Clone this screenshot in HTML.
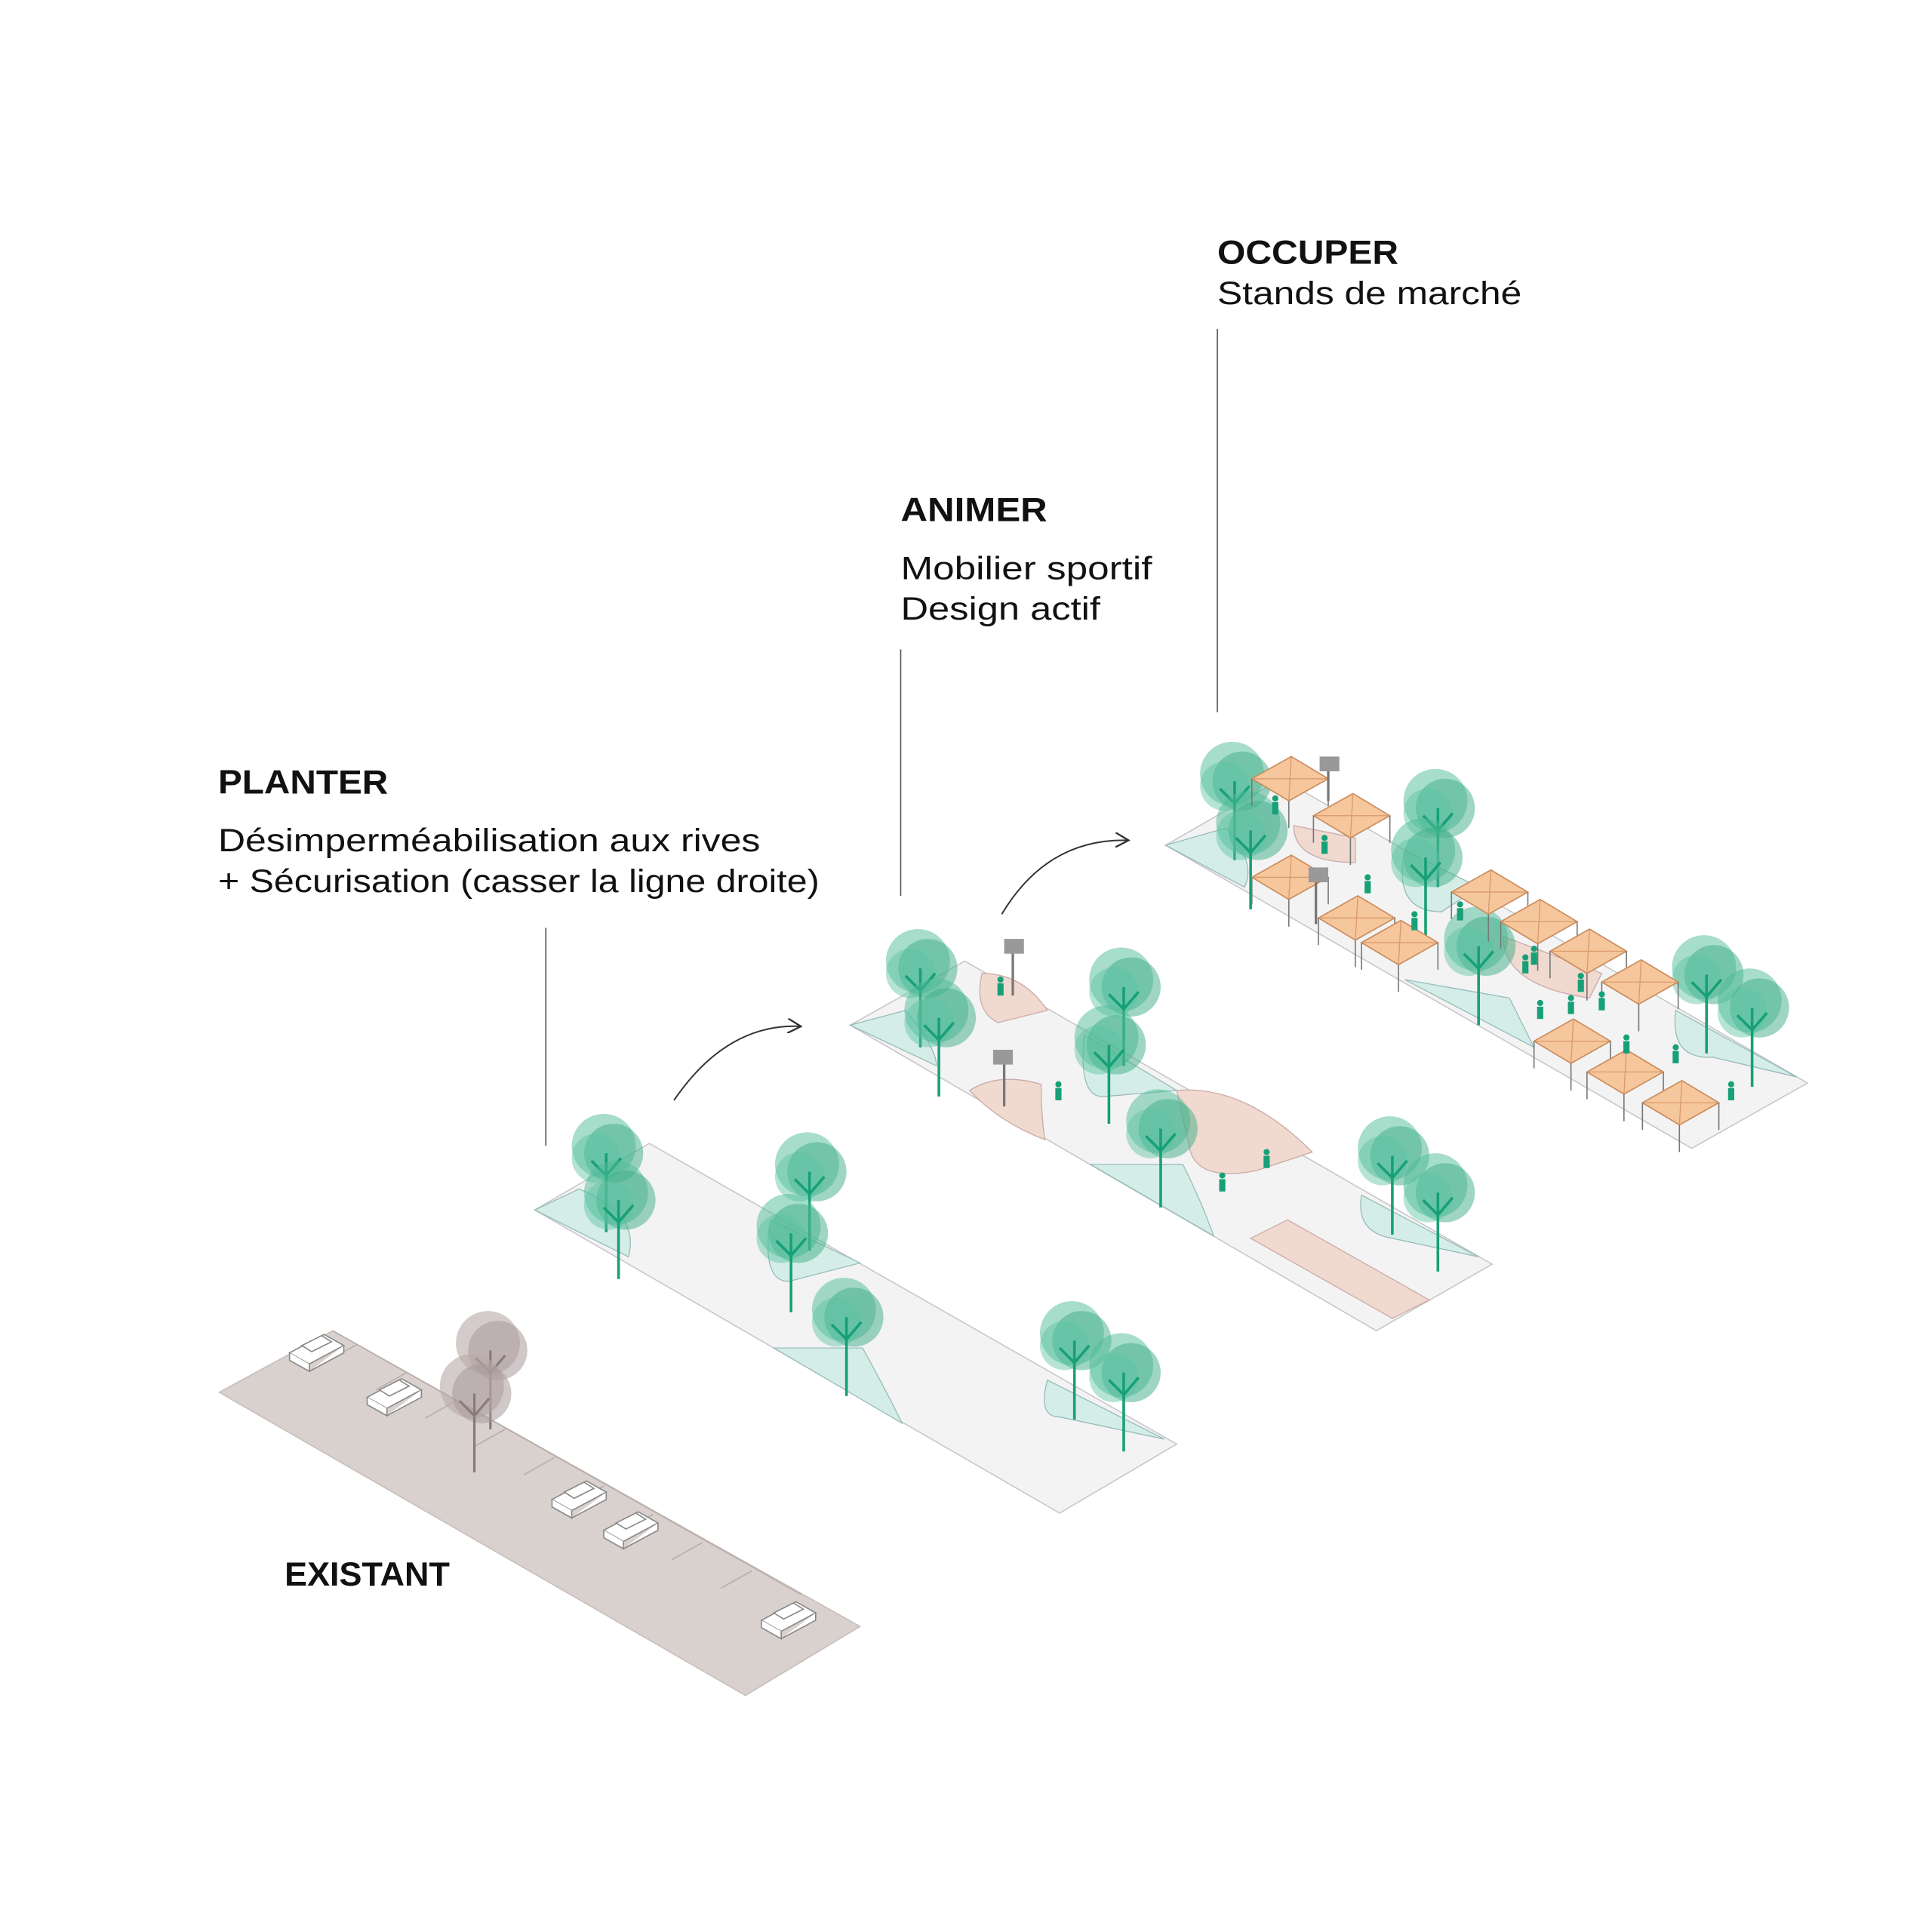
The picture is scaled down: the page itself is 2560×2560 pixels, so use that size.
<!DOCTYPE html>
<html><head><meta charset="utf-8"><style>
html,body{margin:0;padding:0;background:#fff;}
svg{display:block;}
text{font-family:"Liberation Sans",sans-serif;fill:#111;}
.b{font-weight:bold;font-size:27px;}
.r{font-size:26px;}
</style></head><body>
<svg width="2560" height="2560" viewBox="0 0 1568 1568" xmlns="http://www.w3.org/2000/svg">
<defs>
<g id="tree">
 <circle cx="0" cy="0" r="26" fill="#4dbb97" opacity=".5"/>
 <circle cx="8" cy="6" r="24" fill="#3fae88" opacity=".5"/>
 <circle cx="-6" cy="10" r="20" fill="#5cc4a2" opacity=".45"/>
 <path d="M2 6 V70 M2 24 L-10 12 M2 24 L14 10" stroke="#17a077" stroke-width="2.2" fill="none"/>
</g>
<g id="gtree">
 <circle cx="0" cy="0" r="26" fill="#b8aaa6" opacity=".6"/>
 <circle cx="8" cy="6" r="24" fill="#a8999a" opacity=".55"/>
 <path d="M2 6 V70 M2 24 L-10 12 M2 24 L14 10" stroke="#8a7c78" stroke-width="2" fill="none"/>
</g>
<g id="stand">
 <polygon points="0,0 32,-18 62,0 30,18" fill="#f6c69c" stroke="#c98a5a" stroke-width="1"/>
 <path d="M0 0 L62 0 M32 -18 L30 18" stroke="#d99a6a" stroke-width=".8"/>
 <path d="M0 0 V22 M30 18 V40 M62 0 V22" stroke="#777" stroke-width="1"/>
</g>
<g id="car">
 <polygon points="0,10 28,-5 44,4 16,19" fill="#fff" stroke="#888" stroke-width="1"/>
 <polygon points="10,4 26,-4 34,1 18,9" fill="#fff" stroke="#888" stroke-width="1"/>
 <path d="M0 10 V16 L16 25 V19 M16 25 L44 10 V4" fill="#fff" stroke="#888" stroke-width="1"/>
</g>
<g id="p"><circle cx="0" cy="-8" r="2.5" fill="#17a077"/><rect x="-2.5" y="-5" width="5" height="10" fill="#17a077"/></g>
<marker id="ah" viewBox="0 0 10 10" refX="9" refY="5" markerWidth="10" markerHeight="10" orient="auto"><path d="M0 0 L9 5 L0 10" fill="none" stroke="#333" stroke-width="1.2"/></marker>
</defs>

<!-- labels -->
<text x="988" y="214" class="b" textLength="147" lengthAdjust="spacingAndGlyphs">OCCUPER</text>
<text x="988" y="247" class="r" textLength="247" lengthAdjust="spacingAndGlyphs">Stands de marché</text>
<text x="731" y="423" class="b" textLength="119" lengthAdjust="spacingAndGlyphs">ANIMER</text>
<text x="731" y="470" class="r" textLength="204" lengthAdjust="spacingAndGlyphs">Mobilier sportif</text>
<text x="731" y="503" class="r" textLength="162" lengthAdjust="spacingAndGlyphs">Design actif</text>
<text x="177" y="644" class="b" textLength="138" lengthAdjust="spacingAndGlyphs">PLANTER</text>
<text x="177" y="691" class="r" textLength="440" lengthAdjust="spacingAndGlyphs">Désimperméabilisation aux rives</text>
<text x="177" y="724" class="r" textLength="488" lengthAdjust="spacingAndGlyphs">+ Sécurisation (casser la ligne droite)</text>
<text x="231" y="1287" class="b" textLength="134" lengthAdjust="spacingAndGlyphs">EXISTANT</text>

<line x1="443" y1="753" x2="443" y2="930" stroke="#555" stroke-width="1"/>
<line x1="731" y1="527" x2="731" y2="727" stroke="#555" stroke-width="1"/>
<line x1="988" y1="267" x2="988" y2="578" stroke="#555" stroke-width="1"/>

<path d="M547 893 Q590 830 650 833" fill="none" stroke="#333" stroke-width="1.2" marker-end="url(#ah)"/>
<path d="M813 742 Q850 680 916 682" fill="none" stroke="#333" stroke-width="1.2" marker-end="url(#ah)"/>

<!-- EXISTANT -->
<polygon points="178,1130 270,1080 698,1320 605,1376" fill="#d9d1ce" stroke="#c8bfbb" stroke-width="1"/>
<g stroke="#b9aeaa" stroke-width="1">
<line x1="270" y1="1080" x2="650" y2="1294"/>
<line x1="290" y1="1091" x2="265" y2="1105"/><line x1="330" y1="1114" x2="305" y2="1128"/>
<line x1="370" y1="1137" x2="345" y2="1151"/><line x1="410" y1="1160" x2="385" y2="1174"/>
<line x1="450" y1="1183" x2="425" y2="1197"/><line x1="490" y1="1206" x2="465" y2="1220"/>
<line x1="530" y1="1229" x2="505" y2="1243"/><line x1="570" y1="1252" x2="545" y2="1266"/>
<line x1="610" y1="1275" x2="585" y2="1289"/>
</g>
<use href="#car" x="235" y="1088"/><use href="#car" x="298" y="1124"/>
<use href="#car" x="448" y="1207"/><use href="#car" x="490" y="1232"/>
<use href="#car" x="618" y="1305"/>
<use href="#gtree" x="396" y="1090"/><use href="#gtree" x="383" y="1125"/>

<!-- PLANTER -->
<polygon points="434,982 527,928 955,1172 860,1228" fill="#f3f3f3" stroke="#c9c9c9" stroke-width="1"/>
<path d="M434 982 L470 965 Q520 985 510 1020 Z" fill="#d4eee7" stroke="#9bb" stroke-width=".8"/>
<path d="M625 990 Q618 1040 640 1040 L698 1025 Z" fill="#d4eee7" stroke="#9bb" stroke-width=".8"/>
<path d="M628 1094 L700 1094 Q720 1130 732 1155 Z" fill="#d4eee7" stroke="#9bb" stroke-width=".8"/>
<path d="M850 1120 Q842 1150 860 1150 L945 1168 Z" fill="#d4eee7" stroke="#9bb" stroke-width=".8"/>
<use href="#tree" x="490" y="930"/><use href="#tree" x="500" y="968"/>
<use href="#tree" x="655" y="945"/><use href="#tree" x="640" y="995"/>
<use href="#tree" x="685" y="1063"/>
<use href="#tree" x="870" y="1082"/><use href="#tree" x="910" y="1108"/>

<!-- ANIMER -->
<polygon points="690,832 783,780 1211,1026 1117,1080" fill="#f3f3f3" stroke="#c9c9c9" stroke-width="1"/>
<path d="M690 832 L735 820 Q760 850 760 865 Z" fill="#d4eee7" stroke="#9bb" stroke-width=".8"/>
<path d="M797 790 Q790 820 810 830 L850 820 Q830 790 797 790 Z" fill="#f0d9cf" stroke="#caa" stroke-width=".8"/>
<path d="M787 885 Q810 870 845 880 Q845 905 848 925 Q810 910 787 885 Z" fill="#f0d9cf" stroke="#caa" stroke-width=".8"/>
<path d="M880 840 Q875 890 895 890 L955 885 Z" fill="#d4eee7" stroke="#9bb" stroke-width=".8"/>
<path d="M955 885 Q1010 880 1065 935 L1020 950 Q970 960 965 930 Z" fill="#f0d9cf" stroke="#caa" stroke-width=".8"/>
<path d="M885 945 L960 945 Q975 975 985 1003 Z" fill="#d4eee7" stroke="#9bb" stroke-width=".8"/>
<path d="M1105 970 Q1100 1000 1130 1005 L1200 1020 Z" fill="#d4eee7" stroke="#9bb" stroke-width=".8"/>
<polygon points="1015,1005 1045,990 1160,1055 1130,1070" fill="#f0d9cf" stroke="#caa" stroke-width=".8"/>
<line x1="822" y1="770" x2="822" y2="808" stroke="#777" stroke-width="2"/><rect x="815" y="762" width="16" height="12" fill="#999"/>
<line x1="815" y1="858" x2="815" y2="898" stroke="#777" stroke-width="2"/><rect x="806" y="852" width="16" height="12" fill="#999"/>
<use href="#tree" x="745" y="780"/><use href="#tree" x="760" y="820"/>
<use href="#tree" x="910" y="795"/><use href="#tree" x="898" y="842"/>
<use href="#tree" x="940" y="910"/>
<use href="#tree" x="1128" y="932"/><use href="#tree" x="1165" y="962"/>
<use href="#p" x="812" y="803"/><use href="#p" x="859" y="888"/><use href="#p" x="1028" y="943"/><use href="#p" x="992" y="962"/>

<!-- OCCUPER -->
<polygon points="946,686 1040,632 1467,879 1373,932" fill="#f3f3f3" stroke="#c9c9c9" stroke-width="1"/>
<path d="M946 686 L995 672 Q1020 700 1010 720 Z" fill="#d4eee7" stroke="#9bb" stroke-width=".8"/>
<path d="M1140 690 Q1130 740 1170 740 L1200 720 Z" fill="#d4eee7" stroke="#9bb" stroke-width=".8"/>
<path d="M1140 795 L1225 810 L1245 850 Z" fill="#d4eee7" stroke="#9bb" stroke-width=".8"/>
<path d="M1360 820 Q1355 860 1390 858 L1458 874 Z" fill="#d4eee7" stroke="#9bb" stroke-width=".8"/>
<path d="M1220 760 Q1220 800 1290 810 L1300 790 Z" fill="#f0d9cf" stroke="#caa" stroke-width=".8"/>
<path d="M1050 670 Q1050 700 1100 700 L1100 680 Z" fill="#f0d9cf" stroke="#caa" stroke-width=".8"/>
<use href="#tree" x="1000" y="628"/><use href="#tree" x="1013" y="668"/>
<use href="#tree" x="1165" y="650"/><use href="#tree" x="1155" y="690"/>
<use href="#tree" x="1198" y="762"/>
<use href="#tree" x="1383" y="785"/><use href="#tree" x="1420" y="812"/>
<use href="#stand" x="1016" y="632"/><use href="#stand" x="1066" y="662"/>
<use href="#stand" x="1016" y="712"/><use href="#stand" x="1070" y="745"/>
<use href="#stand" x="1105" y="765"/>
<use href="#stand" x="1178" y="724"/><use href="#stand" x="1218" y="748"/>
<use href="#stand" x="1258" y="772"/><use href="#stand" x="1300" y="797"/>
<use href="#stand" x="1245" y="845"/><use href="#stand" x="1288" y="870"/>
<use href="#stand" x="1333" y="895"/>
<line x1="1078" y1="620" x2="1078" y2="650" stroke="#777" stroke-width="2"/><rect x="1071" y="614" width="16" height="12" fill="#999"/>
<line x1="1068" y1="710" x2="1068" y2="750" stroke="#777" stroke-width="2"/><rect x="1062" y="704" width="16" height="12" fill="#999"/>
<use href="#p" x="1035" y="656"/><use href="#p" x="1075" y="688"/><use href="#p" x="1110" y="720"/>
<use href="#p" x="1148" y="750"/><use href="#p" x="1185" y="742"/><use href="#p" x="1245" y="778"/>
<use href="#p" x="1238" y="785"/><use href="#p" x="1283" y="800"/><use href="#p" x="1250" y="822"/>
<use href="#p" x="1275" y="818"/><use href="#p" x="1300" y="815"/><use href="#p" x="1360" y="858"/>
<use href="#p" x="1320" y="850"/><use href="#p" x="1405" y="888"/>
</svg>
</body></html>
